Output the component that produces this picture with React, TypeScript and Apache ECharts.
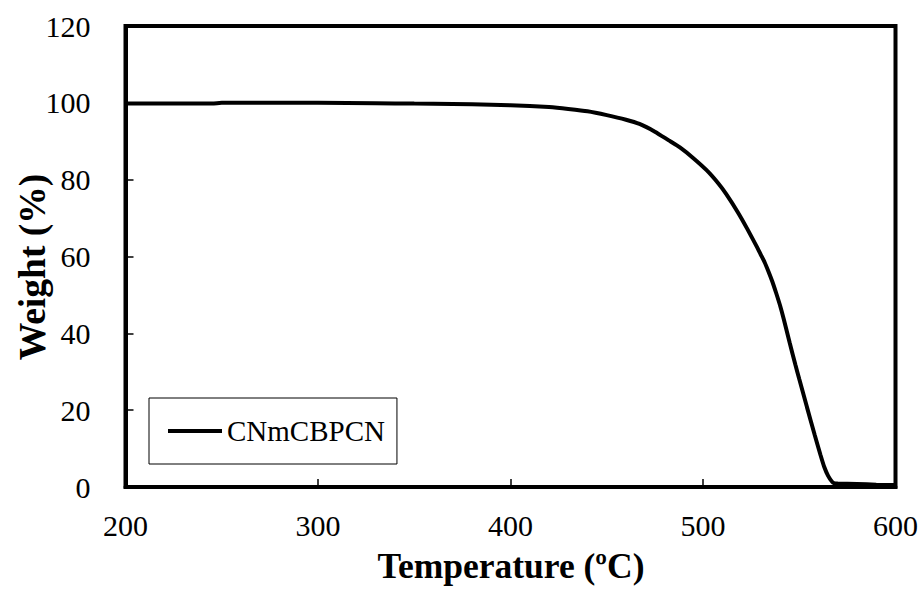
import React, { useEffect, useRef } from "react";
import * as echarts from "echarts";

const seriesName = "CNmCBPCN";
const temperatures = [200, 220, 245, 250, 280, 300, 330, 350, 370, 390, 410, 420, 430, 440, 450, 460, 467, 475, 482, 488, 495, 502, 508, 512, 518, 523, 528, 530, 532, 534, 536, 538, 540, 542, 545, 548, 550, 554, 558, 561, 563, 565, 567, 568, 570, 580, 590, 600];
const weights = [99.8, 99.8, 99.8, 100.0, 100.0, 100.0, 99.9, 99.8, 99.7, 99.5, 99.2, 98.9, 98.4, 97.8, 96.8, 95.6, 94.5, 92.5, 90.3, 88.4, 85.6, 82.4, 79.0, 76.3, 71.6, 67.2, 62.5, 60.5, 58.5, 56.1, 53.5, 50.5, 47.3, 43.6, 37.6, 31.8, 28.1, 20.8, 13.6, 8.4, 5.2, 2.9, 1.4, 1.0, 0.9, 0.8, 0.6, 0.5];
const xTitle = "Temperature (ºC)";
const yTitle = "Weight (%)";

const FONT = "Liberation Serif";

export default function App() {
  const ref = useRef<HTMLDivElement>(null);
  useEffect(() => {
    if (!ref.current) return;
    const chart = echarts.init(ref.current, null, { renderer: "svg" });
    chart.setOption({
      animation: false,
      backgroundColor: "#ffffff",
      textStyle: { fontFamily: FONT, color: "#000" },
      grid: {
        left: 125.5,
        right: 27.5,
        top: 26,
        bottom: 107,
        show: true,
        borderColor: "#000",
        borderWidth: 4,
        backgroundColor: "transparent",
      },
      legend: {
        left: 149,
        top: 398,
        orient: "vertical",
        data: [{ name: seriesName, icon: "rect" }],
        itemWidth: 54,
        itemHeight: 4,
        itemGap: 0,
        borderColor: "#000",
        borderWidth: 1,
        padding: [18, 12, 18, 19],
        backgroundColor: "#fff",
        textStyle: { fontFamily: FONT, fontSize: 29, color: "#000", lineHeight: 30 },
      },
      xAxis: {
        type: "value",
        min: 200,
        max: 600,
        interval: 100,
        axisLine: { show: true, lineStyle: { color: "#000", width: 4 } },
        axisTick: { show: true, inside: true, length: 8, lineStyle: { color: "#000", width: 1.5 } },
        splitLine: { show: false },
        axisLabel: { fontFamily: FONT, fontSize: 30, color: "#000", margin: 23 },
      },
      yAxis: {
        type: "value",
        min: 0,
        max: 120,
        interval: 20,
        axisLine: { show: true, lineStyle: { color: "#000", width: 4 } },
        axisTick: { show: true, inside: true, length: 8, lineStyle: { color: "#000", width: 1.5 } },
        splitLine: { show: false },
        axisLabel: { fontFamily: FONT, fontSize: 30, color: "#000", margin: 35 },
      },
      graphic: [
        {
          type: "text",
          x: 32,
          y: 267,
          rotation: Math.PI / 2,
          style: {
            text: yTitle,
            fontFamily: FONT,
            fontSize: 37.5,
            fontWeight: "bold",
            fill: "#000",
            textAlign: "center",
            textVerticalAlign: "middle",
          },
        },
        {
          type: "text",
          x: 511,
          y: 566,
          style: {
            text: xTitle,
            fontFamily: FONT,
            fontSize: 35.5,
            fontWeight: "bold",
            fill: "#000",
            textAlign: "center",
            textVerticalAlign: "middle",
          },
        },
      ],
      series: [
        {
          name: seriesName,
          type: "line",
          data: temperatures.map((t, i) => [t, weights[i]]),
          showSymbol: false,
          symbol: "none",
          smooth: 0.2,
          lineStyle: { color: "#000", width: 4 },
          itemStyle: { color: "#000" },
        },
      ],
    });
    return () => chart.dispose();
  }, []);
  return (
    <div
      ref={ref}
      style={{ position: "absolute", left: 0, top: 0, width: 923, height: 594 }}
    />
  );
}
